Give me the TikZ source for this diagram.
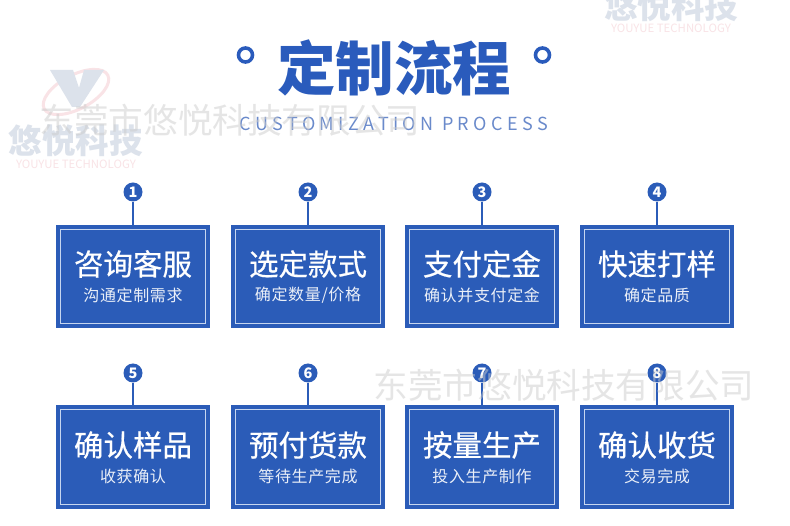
\documentclass[tikz,border=0pt]{standalone}
\usepackage{fontspec}
\setmainfont{Noto Sans CJK SC}
\newfontfamily\headfont[FakeBold=0.5]{Noto Sans CJK SC}
\usepackage{tikz}
\definecolor{boxblue}{HTML}{2B5CB8}
\definecolor{framelight}{HTML}{C6D6F0}
\definecolor{titleblue}{HTML}{2A5BBC}
\definecolor{subblue}{HTML}{6A8ACB}
\definecolor{markgray}{HTML}{DCE2EB}
\definecolor{markpink}{HTML}{F9E3E6}
\tikzset{
    stepbox/.style={rectangle, fill=boxblue, minimum width=154pt, minimum height=103pt, inner sep=0pt},
    stepframe/.style={rectangle, draw=framelight, line width=1pt, minimum width=145pt, minimum height=94pt, inner sep=0pt},
    stepnum/.style={circle, fill=boxblue, text=white, minimum size=19pt, inner sep=0pt, font=\fontsize{14.5}{14}\selectfont\bfseries},
    steplink/.style={draw=boxblue, line width=1.4pt},
    stephead/.style={text=white, inner sep=0pt, font=\headfont\fontsize{29.5}{30}\selectfont},
    stepnote/.style={text=white!90!boxblue, inner sep=0pt, font=\addfontfeature{LetterSpace=4}\fontsize{16}{16}\selectfont},
    ringmark/.style={circle, draw=titleblue, line width=3.6pt, minimum size=14pt, inner sep=0pt},
    wmtext/.style={text=gray!40, text opacity=0.5, inner sep=0pt, font=\fontsize{34.6}{35}\selectfont},
    wmlogo/.style={text=markgray, inner sep=0pt, font=\fontsize{33.5}{34}\selectfont\bfseries},
    wmsub/.style={text=markpink, inner sep=0pt, font=\fontsize{11.4}{11}\selectfont}
}
\begin{document}
\begin{tikzpicture}[x=1pt,y=-1pt]
    \clip (0,0) rectangle (790,526);
    \fill[white] (0,0) rectangle (790,526);

    % Title
    \node[text=titleblue, inner sep=0pt, font=\fontsize{58.5}{58}\selectfont\bfseries] (title) at (394,68) {定制流程};
    \node[ringmark] (ringl) at (245.5,55) {};
    \node[ringmark] (ringr) at (542.5,55) {};
    \node[text=subblue, inner sep=0pt, font=\addfontfeature{LetterSpace=24.5}\fontsize{18}{18}\selectfont] (subtitle) at (394,124) {CUSTOMIZATION PROCESS};

    % Nodes
    \node[stepbox] (box1) at (133,276.5) {};
    \node[stepbox] (box2) at (308,276.5) {};
    \node[stepbox] (box3) at (482,276.5) {};
    \node[stepbox] (box4) at (657,276.5) {};
    \node[stepbox] (box5) at (133,457) {};
    \node[stepbox] (box6) at (308,457) {};
    \node[stepbox] (box7) at (482,457) {};
    \node[stepbox] (box8) at (657,457) {};

    \node[stepframe] (frame1) at (box1) {};
    \node[stepframe] (frame2) at (box2) {};
    \node[stepframe] (frame3) at (box3) {};
    \node[stepframe] (frame4) at (box4) {};
    \node[stepframe] (frame5) at (box5) {};
    \node[stepframe] (frame6) at (box6) {};
    \node[stepframe] (frame7) at (box7) {};
    \node[stepframe] (frame8) at (box8) {};

    \node[stepnum] (num1) at (133,192) {1};
    \node[stepnum] (num2) at (308,192) {2};
    \node[stepnum] (num3) at (482,192) {3};
    \node[stepnum] (num4) at (657,192) {4};
    \node[stepnum] (num5) at (133,373) {5};
    \node[stepnum] (num6) at (308,373) {6};
    \node[stepnum] (num7) at (482,373) {7};
    \node[stepnum] (num8) at (657,373) {8};

    % Edges
    \draw[steplink] (num1) -- (box1);
    \draw[steplink] (num2) -- (box2);
    \draw[steplink] (num3) -- (box3);
    \draw[steplink] (num4) -- (box4);
    \draw[steplink] (num5) -- (box5);
    \draw[steplink] (num6) -- (box6);
    \draw[steplink] (num7) -- (box7);
    \draw[steplink] (num8) -- (box8);

    % Labels
    \node[stephead] (head1) at (133,264) {咨询客服};
    \node[stephead] (head2) at (308,264) {选定款式};
    \node[stephead] (head3) at (482,264) {支付定金};
    \node[stephead] (head4) at (657,264) {快速打样};
    \node[stephead] (head5) at (133,445) {确认样品};
    \node[stephead] (head6) at (308,445) {预付货款};
    \node[stephead] (head7) at (482,445) {按量生产};
    \node[stephead] (head8) at (657,445) {确认收货};

    \node[stepnote] (note1) at (133,295) {沟通定制需求};
    \node[stepnote] (note2) at (308,295) {确定数量/价格};
    \node[stepnote] (note3) at (482,295) {确认并支付定金};
    \node[stepnote] (note4) at (657,295) {确定品质};
    \node[stepnote] (note5) at (133,476) {收获确认};
    \node[stepnote] (note6) at (308,476) {等待生产完成};
    \node[stepnote] (note7) at (482,476) {投入生产制作};
    \node[stepnote] (note8) at (657,476) {交易完成};

    % Watermarks
    \draw[markpink, line width=3pt, rotate around={28:(76,92)}] (76,92) ellipse (36 and 17);
    \fill[markgray] (50,70) -- (73,70) -- (79,88) -- (84,70) -- (104,70) -- (80,107) -- (72,107) -- cycle;
    \node[wmlogo] (logol) at (76,141) {悠悦科技};
    \node[wmsub] (logolsub) at (76,164) {YOUYUE TECHNOLOGY};
    \node[wmlogo] (logor) at (671,6) {悠悦科技};
    \node[wmsub] (logorsub) at (671,28) {YOUYUE TECHNOLOGY};
    \node[wmtext] (wmtop) at (230,120) {东莞市悠悦科技有限公司};
    \node[wmtext] (wmbot) at (564,385) {东莞市悠悦科技有限公司};
\end{tikzpicture}
\end{document}
